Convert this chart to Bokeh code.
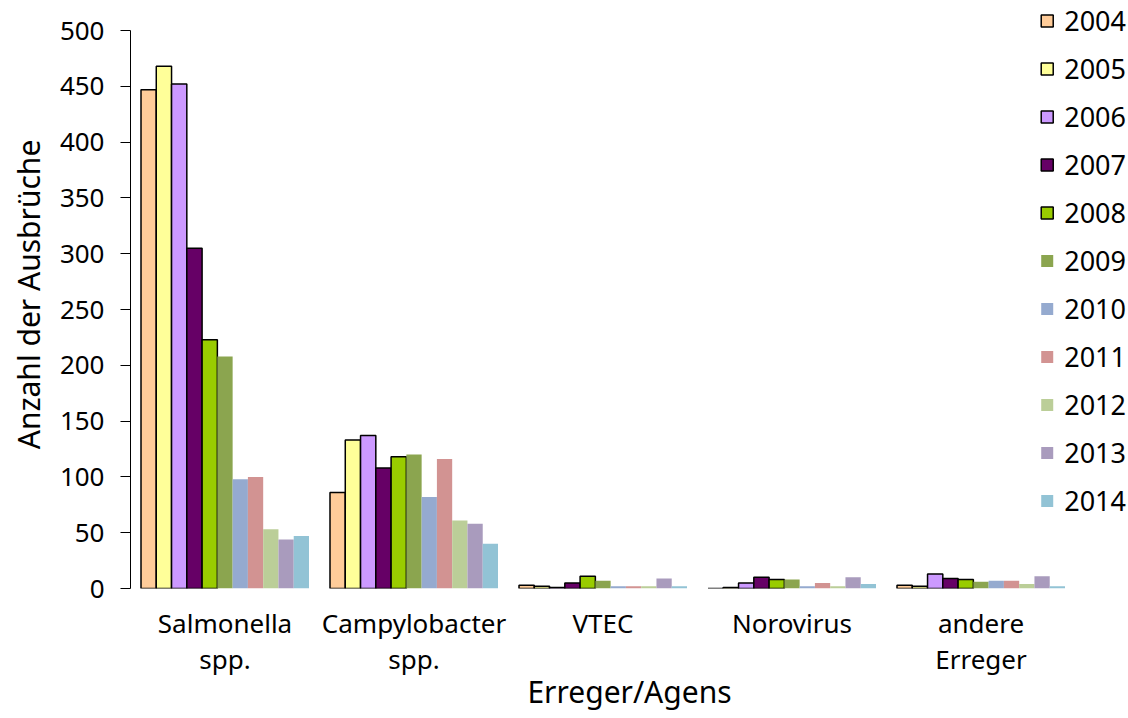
from bokeh.plotting import figure
from bokeh.models import ColumnDataSource, Range1d, FixedTicker, Legend, LegendItem
from bokeh.transform import dodge
from bokeh.embed import file_html
from bokeh.resources import INLINE

categories = ["Salmonella\nspp.", "Campylobacter\nspp.", "VTEC", "Norovirus", "andere\nErreger"]
years = ["2004", "2005", "2006", "2007", "2008", "2009", "2010", "2011", "2012", "2013", "2014"]
v2004 = [447, 86, 3, 0, 3]
v2005 = [468, 133, 2, 1, 2]
v2006 = [452, 137, 1, 5, 13]
v2007 = [305, 108, 5, 10, 9]
v2008 = [223, 118, 11, 8, 8]
v2009 = [208, 120, 7, 8, 6]
v2010 = [98, 82, 2, 2, 7]
v2011 = [100, 116, 2, 5, 7]
v2012 = [53, 61, 2, 2, 4]
v2013 = [44, 58, 9, 10, 11]
v2014 = [47, 40, 2, 4, 2]
series = [v2004, v2005, v2006, v2007, v2008, v2009, v2010, v2011, v2012, v2013, v2014]
colors = ["#FFCC99", "#FFFF99", "#CC99FF", "#660066", "#99CC00", "#8BA54F",
          "#95AACF", "#D29392", "#BBCE98", "#A99BBD", "#92C3D5"]
outlined = [True, True, True, True, True, False, False, False, False, False, False]

FONT = "Noto Sans"
centers = [i + 0.5 for i in range(len(categories))]
data = {"x": centers}
for y, s in zip(years, series):
    data["y" + y] = s
src = ColumnDataSource(data)

p = figure(frame_width=998, frame_height=588, output_backend="svg", toolbar_location=None,
           x_range=Range1d(0, 998 / 189), y_range=Range1d(0, 526.9),
           min_border_left=130, min_border_right=0, min_border_top=0, min_border_bottom=0)
p.outline_line_color = None
p.grid.grid_line_color = None
p.background_fill_color = "white"
p.border_fill_color = "white"

n = len(years)
bw = (168 / 11) / 189
items = []
for j, y in enumerate(years):
    off = (j - (n - 1) / 2) * bw
    r = p.vbar(x=dodge("x", off), top="y" + y, width=bw, source=src,
               fill_color=colors[j],
               line_color="#000000" if outlined[j] else None,
               line_width=1.5 if outlined[j] else 0)
    items.append(LegendItem(label=y, renderers=[r]))

legend = Legend(items=items, location="top_right", margin=2, padding=8,
                label_text_font=FONT, label_text_font_size="27px", label_text_color="#000000",
                label_height=30, glyph_height=15, glyph_width=15, spacing=11,
                label_standoff=10, border_line_color=None, background_fill_alpha=0)
p.add_layout(legend, "center")

# x axis
xa = p.xaxis[0]
xa.ticker = FixedTicker(ticks=centers)
xa.major_label_overrides = {c: lab for c, lab in zip(centers, categories)}
xa.axis_line_color = None
xa.major_tick_line_color = None
xa.minor_tick_line_color = None
xa.major_label_text_font = FONT
xa.major_label_text_font_size = "26px"
xa.major_label_text_color = "#000000"
xa.major_label_text_line_height = 1.0
xa.major_label_standoff = 10
xa.axis_label = "Erreger/Agens"
xa.axis_label_text_font = FONT
xa.axis_label_text_font_size = "30px"
xa.axis_label_text_font_style = "normal"
xa.axis_label_text_color = "#000000"
xa.axis_label_standoff = -9

# y axis
ya = p.yaxis[0]
ya.ticker = FixedTicker(ticks=[0, 50, 100, 150, 200, 250, 300, 350, 400, 450, 500])
ya.bounds = (0, 500)
ya.axis_line_color = "#000000"
ya.axis_line_width = 1
ya.major_tick_line_color = "#000000"
ya.major_tick_out = 10
ya.major_tick_in = 0
ya.minor_tick_line_color = None
ya.major_label_text_font = FONT
ya.major_label_text_font_size = "26px"
ya.major_label_text_color = "#000000"
ya.major_label_standoff = 16
ya.axis_label = "Anzahl der Ausbrüche"
ya.axis_label_text_font = FONT
ya.axis_label_text_font_size = "30px"
ya.axis_label_text_font_style = "normal"
ya.axis_label_text_color = "#000000"
ya.axis_label_standoff = 8

open("out.html", "w").write(file_html(p, INLINE))
